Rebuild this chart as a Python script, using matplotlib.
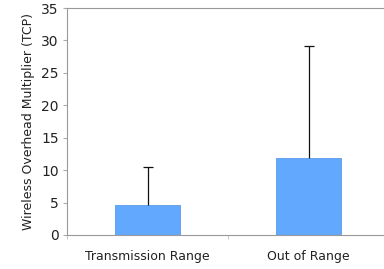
import matplotlib
matplotlib.use('Agg')
import matplotlib.pyplot as plt

categories = ['Transmission Range', 'Out of Range']
means = [4.7, 11.8]
upper_err = [5.8, 17.3]

fig = plt.figure(figsize=(3.84, 2.69), dpi=100)
ax = fig.add_axes([67 / 384, (269 - 235) / 269, 322 / 384, 227 / 269])
ax.patch.set_visible(False)

x = [0, 1]
tops = [m + e for m, e in zip(means, upper_err)]
ax.bar(x, means, width=0.4, color='#62a8ff', edgecolor='#5a9be8', linewidth=0.6, zorder=2)
# upper error bars only, no cap at the bar top
ax.vlines(x, means, tops, color='#111111', linewidth=0.9, zorder=3)
ax.plot(x, tops, linestyle='none', marker='_', markersize=7, markeredgewidth=0.9,
        color='#111111', zorder=3)

ax.set_xlim(-0.5, 1.5)
ax.set_ylim(0, 35)
ax.set_yticks(range(0, 36, 5))
ax.set_xticks(x)
ax.set_xticklabels(categories)
ax.set_xticks([-0.5, 0.5], minor=True)
ax.tick_params(axis='x', which='major', length=0, pad=11, labelsize=9, colors='#222222')
ax.tick_params(axis='x', which='minor', length=3, color='#bbbbbb')
ax.tick_params(axis='y', length=3, color='#aaaaaa', labelsize=10, labelcolor='#222222', pad=3)
ax.set_ylabel('Wireless Overhead Multiplier (TCP)', fontsize=9, color='#222222', labelpad=4)

for s in ax.spines.values():
    s.set_color('#999999')
    s.set_linewidth(0.8)
ax.spines['right'].set_visible(False)

fig.savefig('out.png', dpi=100)
